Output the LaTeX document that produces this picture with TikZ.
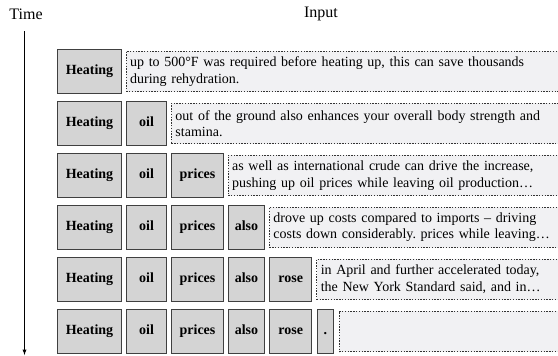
\documentclass[tikz,border=0pt]{standalone}
\usepackage{fontspec}
\setmainfont{Liberation Serif}
\usetikzlibrary{positioning}
\frenchspacing

\definecolor{wordfill}{HTML}{D4D4D4}
\definecolor{wordline}{HTML}{404040}
\definecolor{ctxfill}{HTML}{F1F1F3}

\tikzset{
  word/.style = {draw = wordline, line width = 1pt, fill = wordfill,
    anchor = north west, minimum height = 43.5pt, inner xsep = 2pt,
    text height = 9.5pt, text depth = 3pt,
    font = \fontsize{14}{16}\selectfont\bfseries},
  ctx/.style = {draw = black!80, line width = 0.9pt,
    dash pattern = on 1.4pt off 1.4pt, fill = ctxfill,
    minimum height = 40.5pt, inner xsep = 4pt, align = left,
    font = \fontsize{14}{16.5}\selectfont},
  axislabel/.style = {font = \fontsize{16}{18}\selectfont}
}

\begin{document}
\begin{tikzpicture}[x = 1pt, y = -1pt]
  \useasboundingbox (0, 0) rectangle (558, 356);

  \node[axislabel] (Time) at (26, 14.5) {Time};
  \node[axislabel] (Input) at (321, 14) {Input};
  \coordinate (T0) at (24.5, 31);
  \coordinate (T9) at (24.5, 355);
  \draw[-latex, line width = 0.9pt] (T0) -- (T9);

  % row 1
  \node[word, minimum width = 63.4pt] (H1) at (57.3, 49.3) {Heating};
  \node[ctx, right = 4pt of H1, text width = 423.8pt] (C1)
  {up to 500°F was required before heating up, this can save thousands\\
    during rehydration.};

  % row 2
  \node[word, minimum width = 63.4pt] (H2) at (57.3, 101.25) {Heating};
  \node[word, minimum width = 40pt, right = 4.3pt of H2] (O2) {oil};
  \node[ctx, right = 4pt of O2, text width = 379.5pt] (C2)
  {out of the ground also enhances your overall body strength and\\
    stamina.};

  % row 3
  \node[word, minimum width = 63.4pt] (H3) at (57.3, 153.2) {Heating};
  \node[word, minimum width = 40pt, right = 4.3pt of H3] (O3) {oil};
  \node[word, minimum width = 51.4pt, right = 4.3pt of O3] (P3) {prices};
  \node[ctx, right = 4pt of P3, text width = 323.8pt] (C3)
  {as well as international crude can drive the increase,\\
    pushing up oil prices while leaving oil production…};

  % row 4
  \node[word, minimum width = 63.4pt] (H4) at (57.3, 205.15) {Heating};
  \node[word, minimum width = 40pt, right = 4.3pt of H4] (O4) {oil};
  \node[word, minimum width = 51.4pt, right = 4.3pt of O4] (P4) {prices};
  \node[word, minimum width = 36pt, right = 4.3pt of P4] (A4) {also};
  \node[ctx, right = 4pt of A4, text width = 283.5pt] (C4)
  {drove up costs compared to imports – driving\\
    costs down considerably. prices while leaving…};

  % row 5
  \node[word, minimum width = 63.4pt] (H5) at (57.3, 257.1) {Heating};
  \node[word, minimum width = 40pt, right = 4.3pt of H5] (O5) {oil};
  \node[word, minimum width = 51.4pt, right = 4.3pt of O5] (P5) {prices};
  \node[word, minimum width = 36pt, right = 4.3pt of P5] (A5) {also};
  \node[word, minimum width = 42pt, right = 4.3pt of A5] (R5) {rose};
  \node[ctx, right = 4pt of R5, text width = 237.5pt] (C5)
  {in April and further accelerated today,\\
    the New York Standard said, and in…};

  % row 6
  \node[word, minimum width = 63.4pt] (H6) at (57.3, 309.05) {Heating};
  \node[word, minimum width = 40pt, right = 4.3pt of H6] (O6) {oil};
  \node[word, minimum width = 51.4pt, right = 4.3pt of O6] (P6) {prices};
  \node[word, minimum width = 36pt, right = 4.3pt of P6] (A6) {also};
  \node[word, minimum width = 42pt, right = 4.3pt of A6] (R6) {rose};
  \node[word, minimum width = 16.6pt, right = 4.3pt of R6] (D6) {.};
  \node[ctx, right = 4.5pt of D6, text width = 214.7pt] (C6) {};

\end{tikzpicture}
\end{document}
